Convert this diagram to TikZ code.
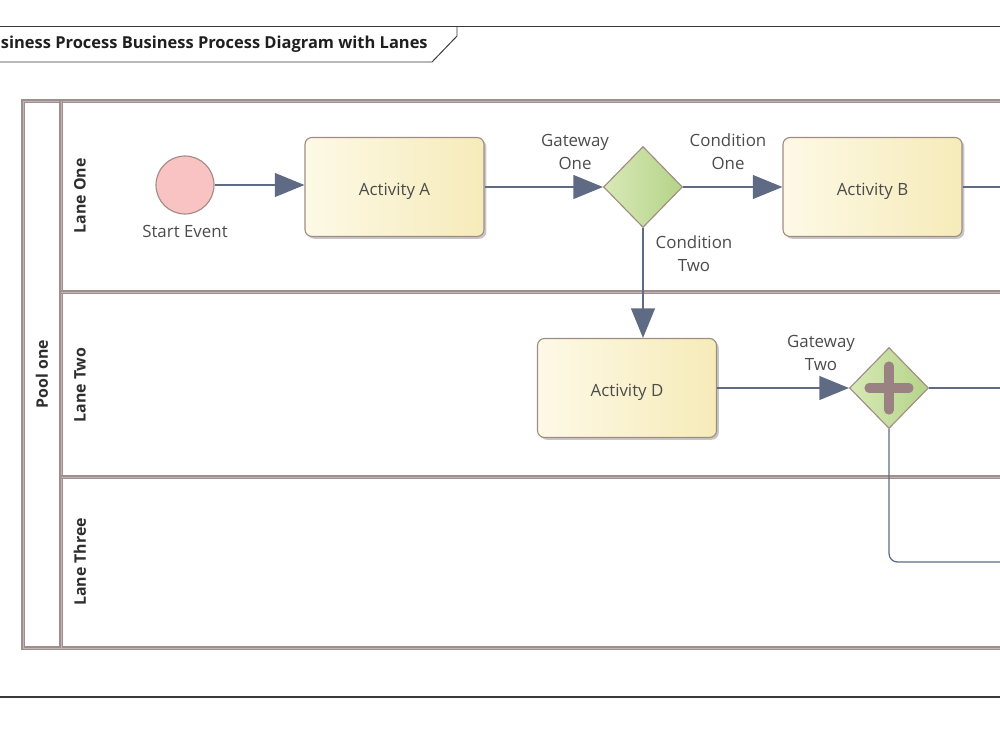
\documentclass[tikz,border=0pt]{standalone}
\usepackage{fontspec}
\setmainfont{Open Sans}
\usetikzlibrary{positioning,shapes.geometric,arrows.meta,shadows,calc}
\definecolor{textgray}{HTML}{4C4C4C}
\definecolor{flowline}{HTML}{5F6B84}
\definecolor{lanegray}{HTML}{9E8E8E}
\definecolor{framegray}{HTML}{3A3A3A}
\definecolor{taskleft}{HTML}{FDF9E6}
\definecolor{taskright}{HTML}{F6EBB9}
\definecolor{shapeborder}{HTML}{A08C84}
\definecolor{gateleft}{HTML}{D8E9B7}
\definecolor{gateright}{HTML}{B4D388}
\definecolor{eventfill}{HTML}{F9C3C3}
\definecolor{plusgray}{HTML}{9A8282}
\begin{document}
\begin{tikzpicture}[x=0.025cm, y=-0.025cm,
    every node/.style={font=\fontsize{12}{16.3}\selectfont, text=textgray},
    task/.style={rectangle, rounded corners=5pt, draw=shapeborder, line width=0.8pt,
      left color=taskleft, right color=taskright, inner sep=0pt,
      minimum width=4.475cm, minimum height=2.475cm,
      text height=14.5pt, text depth=3pt,
      drop shadow={shadow xshift=1.6pt, shadow yshift=-1.6pt, fill=black, opacity=.22}},
    gateway/.style={diamond, draw=shapeborder, line width=0.8pt,
      left color=gateleft, right color=gateright, inner sep=0pt,
      minimum width=1.975cm, minimum height=2.025cm},
    startevt/.style={circle, draw=shapeborder, line width=0.8pt, fill=eventfill,
      inner sep=0pt, minimum size=1.45cm},
    flow/.style={draw=flowline, line width=0.9pt},
    flowarrow/.style={flow, -{Triangle[length=21pt, width=17pt]}},
    lane/.style={draw=lanegray, double=lanegray!65, double distance=0.7pt, line width=0.8pt},
    lanelabel/.style={rotate=90, font=\bfseries\fontsize{11.3}{14}\selectfont, text=black!82},
    flowlabel/.style={align=center}]
  \useasboundingbox (0,0) rectangle (1000,750);
  \clip (0,0) rectangle (1000,750);

  % diagram frame and title tab
  \draw[framegray, line width=0.7pt] (-10,26) -- (1010,26);
  \draw[framegray, line width=1.1pt] (-10,697) -- (1010,697);
  \draw[framegray, line width=0.7pt] (457,26) -- (457,36) -- (432,62) -- (-10,62);
  \node[anchor=west, font=\bfseries\fontsize{11.7}{14}\selectfont, text=black!88] (title) at (-4,44)
    {siness Process Business Process Diagram with Lanes};

  % pool and lanes
  \draw[lane] (23,101) rectangle (1030,648);
  \draw[lane] (61,101) -- (61,648);
  \draw[lane] (61,292) -- (1030,292);
  \draw[lane] (61,477) -- (1030,477);
  \node[lanelabel] (pool) at (42,374) {Pool one};
  \node[lanelabel] (laneone) at (80,196) {Lane One};
  \node[lanelabel] (lanetwo) at (80,385) {Lane Two};
  \node[lanelabel] (lanethree) at (80,562) {Lane Three};

  % flow objects
  \node[startevt] (start) at (185,185) {};
  \node[below=4pt of start] (startlbl) {Start Event};
  \node[task] (actA) at (394.5,187) {Activity A};
  \node[gateway] (gwone) at (643,187) {};
  \node[task] (actB) at (872.5,187) {Activity B};
  \node[task] (actD) at (627,388) {Activity D};
  \node[gateway] (gwtwo) at (889,388) {};
  \draw[plusgray, line width=6.5pt, line cap=round]
    ($(gwtwo.center)+(-20,0)$) -- ($(gwtwo.center)+(20,0)$)
    ($(gwtwo.center)+(0,-22)$) -- ($(gwtwo.center)+(0,22)$);

  % labels on the flows
  \node[flowlabel] (gwonelbl) at (575,152) {Gateway\\One};
  \node[flowlabel] (condone) at (728,152) {Condition\\One};
  \node[flowlabel] (condtwo) at (694,254) {Condition\\Two};
  \node[flowlabel] (gwtwolbl) at (821,353) {Gateway\\Two};

  % sequence flows
  \coordinate (bout) at (1010,187);
  \coordinate (gwtwoout) at (1010,388);
  \coordinate (laneout) at (1010,562);
  \draw[flowarrow] (start.east) -- (start.east -| actA.west);
  \draw[flowarrow] (actA.east) -- (gwone.west);
  \draw[flowarrow] (gwone.east) -- (actB.west);
  \draw[flow] (actB.east) -- (bout);
  \draw[flowarrow] (gwone.south) -- (gwone.south |- actD.north);
  \draw[flowarrow] (actD.east) -- (gwtwo.west);
  \draw[flow] (gwtwo.east) -- (gwtwoout);
  \draw[flow, rounded corners=6pt] (gwtwo.south) |- (laneout);
\end{tikzpicture}
\end{document}
